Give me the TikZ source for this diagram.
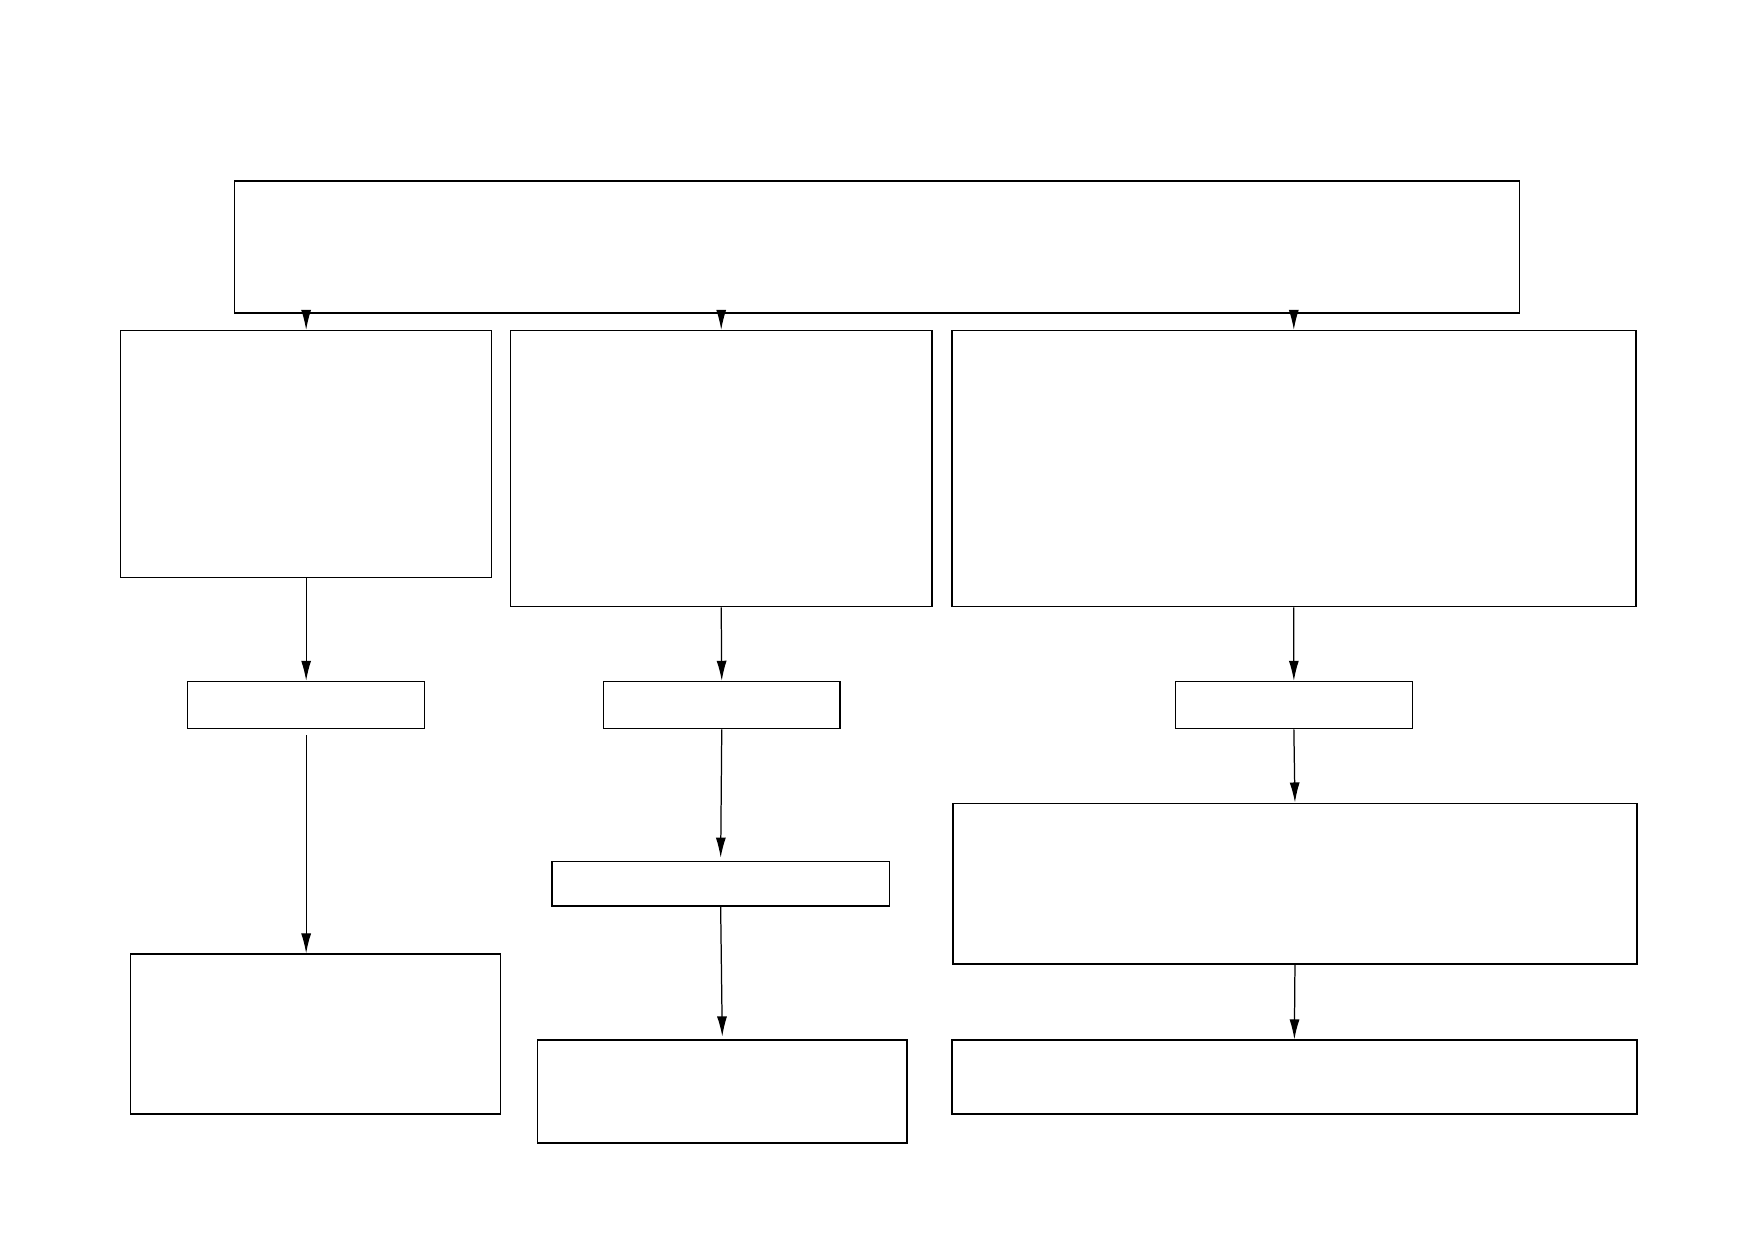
\documentclass[tikz,border=0pt]{standalone}
\usetikzlibrary{arrows.meta,fit}
\begin{document}
\begin{tikzpicture}[x=0.16952mm,y=-0.16952mm,
  box/.style={draw,line width=0.75pt,inner sep=0pt,rectangle},
  arr/.style={line width=0.6pt,-{Latex[length=3.4mm,width=1.7mm]}}]
\useasboundingbox[fill=white] (0,0) rectangle (1752,1239);
\node[box,fit={(234.6,181)(1519.5,312.8)}] (top) {};
\node[box,fit={(120.7,330.7)(491.6,577.6)}] (a1) {};
\node[box,fit={(510.6,330.7)(931.8,606.7)}] (b1) {};
\node[box,fit={(951.9,330.7)(1635.7,606.7)}] (c1) {};
\node[box,fit={(187.7,681.6)(424.6,728.5)}] (a2) {};
\node[box,fit={(603.3,681.6)(840.2,728.5)}] (b2) {};
\node[box,fit={(1175.4,681.6)(1412.3,728.5)}] (c2) {};
\node[box,fit={(551.9,861.4)(889.4,906.1)}] (b3) {};
\node[box,fit={(953.1,803.3)(1636.8,964.2)}] (c3) {};
\node[box,fit={(130.7,954.2)(500.6,1114)}] (a3) {};
\node[box,fit={(537.4,1040.2)(907.2,1143)}] (b4) {};
\node[box,fit={(951.9,1040.2)(1636.8,1114)}] (c4) {};
\draw[arr] (top.south -| a1.north) -- (a1.north);
\draw[arr] (top.south -| b1.north) -- (b1.north);
\draw[arr] (top.south -| c1.north) -- (c1.north);
\draw[arr] (a1.south) -- (a2.north);
\draw[arr] (b1.south) -- (b2.north);
\draw[arr] (c1.south) -- (c2.north);
\draw[arr,shorten <=1mm] (a2.south) -- (a3.north -| a2.south);
\draw[arr,shorten >=0.5mm] (b2.south) -- (b3.north);
\draw[arr,shorten >=0.5mm] (b3.south) -- (b4.north);
\draw[arr] (c2.south) -- (c3.north);
\draw[arr] (c3.south) -- (c4.north);
\end{tikzpicture}
\end{document}
